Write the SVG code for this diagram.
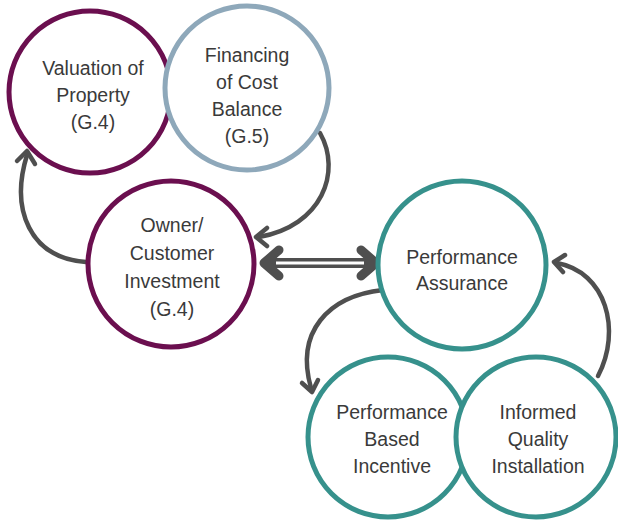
<svg xmlns="http://www.w3.org/2000/svg" width="618" height="523" viewBox="0 0 618 523">
<style>
.c{fill:#fff;stroke-width:5}
.p{stroke:#6b0f4f}
.b{stroke:#8ea8ba}
.t{stroke:#36918c}
text{font-family:"Liberation Sans",Arial,sans-serif;font-size:19.5px;fill:#3a3a3a;text-anchor:middle}
.a{fill:none;stroke:#4f4f4f;stroke-width:4.5;stroke-linecap:round}
.h{fill:none;stroke:#4f4f4f;stroke-width:4.5;stroke-linecap:round;stroke-linejoin:round}
</style>
<g id="connectors">
<path class="a" d="M86 262 C30 258 10 210 27 155"/>
<path class="h" d="M17 161 L27 151 L35 164"/>
<path class="a" d="M320 133 C342 172 322 226 259 237"/>
<path class="h" d="M267 228 L256 237 L267 246"/>
<path class="a" d="M383 290 C328 296 295 332 311 388"/>
<path class="h" d="M302 383 L312 392 L318 380"/>
<path class="a" d="M598 376 C622 330 606 272 557 263"/>
<path class="h" d="M565 255 L554 262 L563 272"/>
<g id="double-arrow">
<line x1="268" y1="263" x2="372" y2="263" stroke="#4f4f4f" stroke-width="10"/>
<line x1="276" y1="263" x2="364" y2="263" stroke="#fff" stroke-width="3"/>
<polyline points="279,250 264,263 279,276" fill="none" stroke="#4f4f4f" stroke-width="9" stroke-linejoin="round" stroke-linecap="round"/>
<polyline points="361,250 376,263 361,276" fill="none" stroke="#4f4f4f" stroke-width="9" stroke-linejoin="round" stroke-linecap="round"/>
</g>
</g>
<g id="valuation">
<circle class="c p" cx="90" cy="92" r="81"/>
<text x="93" y="75">Valuation of</text>
<text x="93" y="102">Property</text>
<text x="93" y="129">(G.4)</text>
</g>
<g id="financing">
<circle class="c b" cx="247" cy="88" r="82"/>
<text x="247" y="62">Financing</text>
<text x="247" y="89">of Cost</text>
<text x="247" y="116">Balance</text>
<text x="247" y="143">(G.5)</text>
</g>
<g id="owner">
<circle class="c p" cx="171" cy="264" r="83"/>
<text x="172" y="232">Owner/</text>
<text x="172" y="260">Customer</text>
<text x="172" y="288">Investment</text>
<text x="172" y="316">(G.4)</text>
</g>
<g id="assurance">
<circle class="c t" cx="462" cy="265" r="84"/>
<text x="462" y="264">Performance</text>
<text x="462" y="290">Assurance</text>
</g>
<g id="incentive">
<circle class="c t" cx="388" cy="437" r="80"/>
<text x="392" y="419">Performance</text>
<text x="392" y="446">Based</text>
<text x="392" y="473">Incentive</text>
</g>
<g id="installation">
<circle class="c t" cx="536" cy="437" r="80"/>
<text x="538" y="419">Informed</text>
<text x="538" y="446">Quality</text>
<text x="538" y="473">Installation</text>
</g>
</svg>
